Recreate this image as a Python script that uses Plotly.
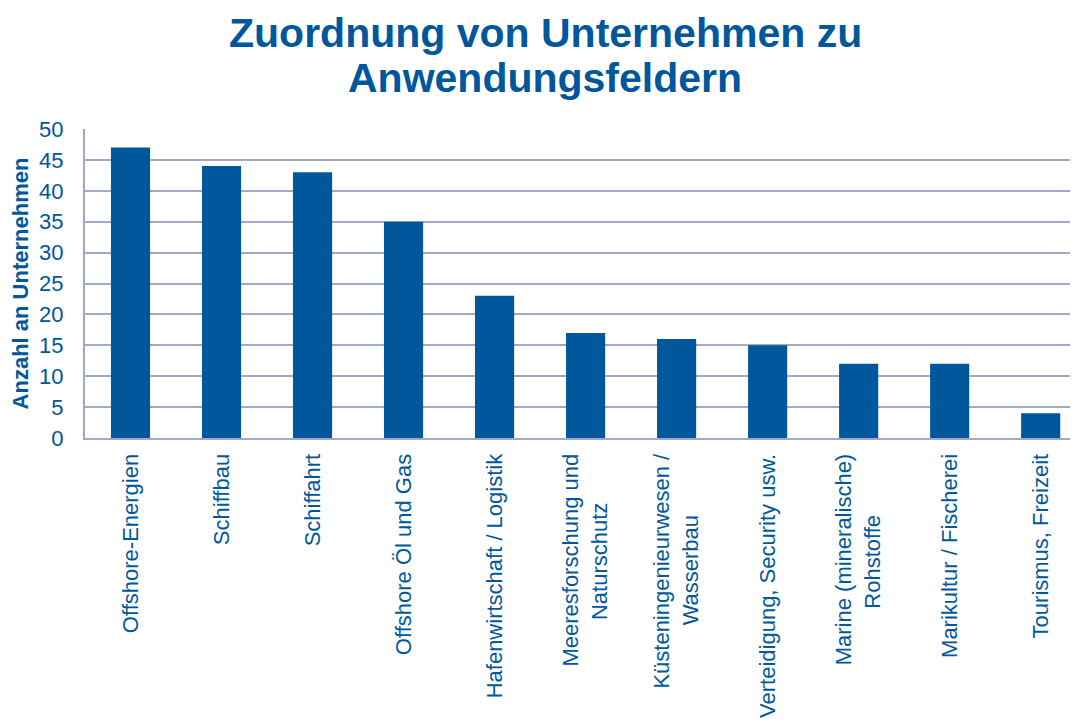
import plotly.graph_objects as go

NB = "\u00a0"
categories = [
    "Offshore-Energien",
    "Schiffbau",
    "Schiffahrt",
    "Offshore Öl und Gas",
    "Hafenwirtschaft / Logistik",
    "Meeresforschung und<br>Naturschutz" + NB * 8,
    "Küsteningenieurwesen /<br>Wasserbau" + NB * 10,
    "Verteidigung, Security usw.",
    "Marine (mineralische)<br>Rohstoffe" + NB * 10,
    "Marikultur / Fischerei",
    "Tourismus, Freizeit",
]
values = [47, 44, 43, 35, 23, 17, 16, 15, 12, 12, 4]
y_ticks = [0, 5, 10, 15, 20, 25, 30, 35, 40, 45, 50]
title_lines = ["Zuordnung von Unternehmen zu", "Anwendungsfeldern"]

BLUE = "#00579c"
GRID = "#a0a9c6"
FONT = "Liberation Sans, Arial, sans-serif"

fig = go.Figure(
    go.Bar(
        x=list(range(len(categories))),
        y=values,
        marker=dict(color=BLUE, line=dict(width=0)),
        width=0.43,
    )
)

# page body has an 8px margin, so the figure is 8px smaller than the window
W, H = 1070, 714
fig.update_layout(
    width=W,
    height=H,
    margin=dict(l=77, r=0, t=121, b=284, autoexpand=False),
    paper_bgcolor="white",
    plot_bgcolor="white",
    showlegend=False,
    font=dict(family=FONT, color=BLUE),
)

for line, ypx in zip(title_lines, [25, 70]):
    fig.add_annotation(
        text=f"<b>{line}</b>",
        xref="paper",
        yref="paper",
        x=(537 - 77) / (W - 77),
        y=1 + (121 - ypx) / (H - 121 - 284),
        xanchor="center",
        yanchor="middle",
        showarrow=False,
        font=dict(size=41, color=BLUE, family=FONT),
    )

fig.update_xaxes(
    tickmode="array",
    tickvals=list(range(len(categories))),
    ticktext=categories,
    tickangle=-90,
    tickfont=dict(size=22, color=BLUE, family=FONT),
    range=[-0.5, 10.41],
    showline=True,
    linecolor=GRID,
    linewidth=2,
    showgrid=False,
    ticks="",
    ticklabelstandoff=5,
    automargin=False,
    fixedrange=True,
)

fig.update_yaxes(
    range=[0, 50],
    tickmode="array",
    tickvals=y_ticks,
    ticktext=[str(v) for v in y_ticks],
    tickfont=dict(size=22, color=BLUE, family=FONT),
    showgrid=True,
    gridcolor=GRID,
    gridwidth=2,
    showline=True,
    linecolor=GRID,
    linewidth=2,
    zeroline=False,
    ticks="",
    ticklabelstandoff=15,
    title=dict(
        text="<b>Anzahl an Unternehmen</b>",
        font=dict(size=22, color=BLUE, family=FONT),
        standoff=5,
    ),
    automargin=False,
)

fig.write_html("out.html")
